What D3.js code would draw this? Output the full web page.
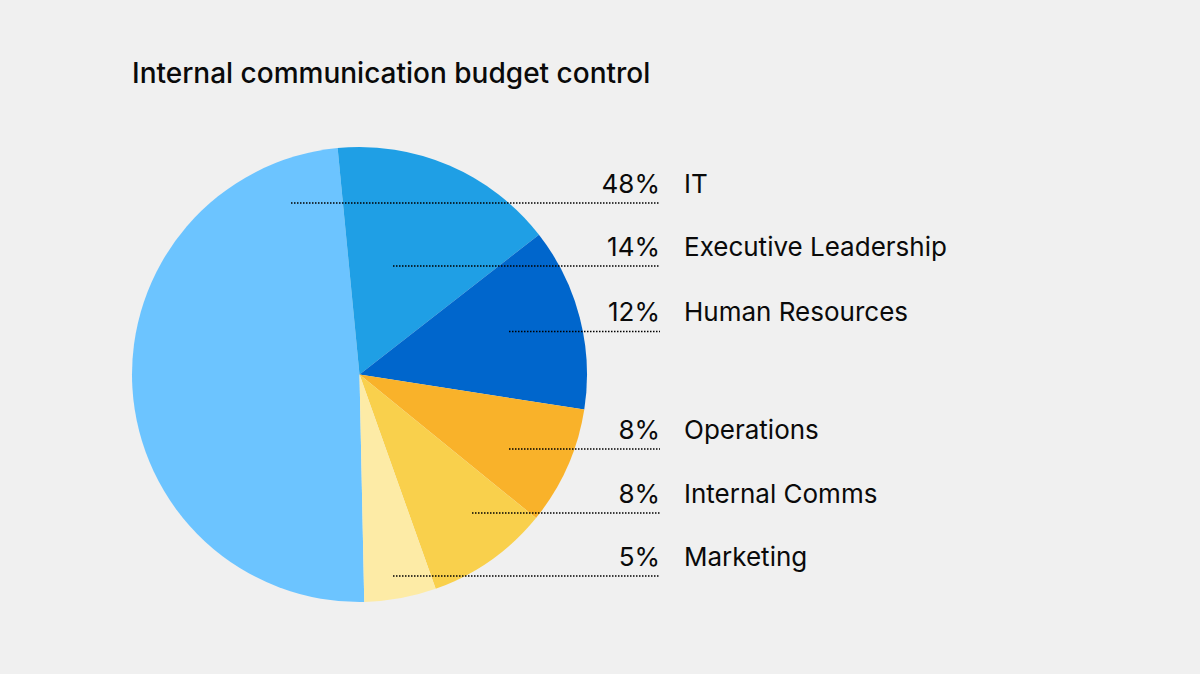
<!DOCTYPE html>
<html>
  <head>
    <title>Internal communication budget control</title>
    <script src="https://d3js.org/d3.v7.min.js"></script>
    <style>
      body {
        margin: 0;
        background: #f0f0f0;
      }
      text {
        font-family: Inter, "Noto Sans", sans-serif;
        fill: #0a0a0a;
      }
    </style>
  </head>
  <body>
    <div id="chart"></div>
    <script>
      // Departments, in legend order
      const departments = [
        "IT",
        "Executive Leadership",
        "Human Resources",
        "Operations",
        "Internal Comms",
        "Marketing",
      ];
      // Slice shares as drawn in the picture
      const shares = [48.8, 16.0, 13.0, 8.4, 8.7, 5.1];
      // Percent labels as printed next to the names
      const percentLabels = ["48%", "14%", "12%", "8%", "8%", "5%"];
      const colors = ["#6cc4ff", "#1f9fe5", "#0066cc", "#f9b22a", "#f9d04c", "#fdeba6"];

      const data = departments.map((name, i) => ({
        name,
        value: shares[i],
        label: percentLabels[i],
      }));

      const width = 1200,
        height = 674;
      const cx = 359.5,
        cy = 374.5,
        radius = 227.5;

      const svg = d3
        .select("#chart")
        .append("svg")
        .attr("width", width)
        .attr("height", height);

      // Title
      svg
        .append("text")
        .attr("x", 132)
        .attr("y", 83)
        .style("font-size", "28px")
        .style("font-weight", 500)
        .text("Internal communication budget control");

      // Pie, IT starts just right of straight down and runs clockwise
      const start = (178.8 * Math.PI) / 180;
      const pie = d3
        .pie()
        .sort(null)
        .value((d) => d.value)
        .startAngle(start)
        .endAngle(start + 2 * Math.PI);
      const arc = d3.arc().innerRadius(0).outerRadius(radius);

      const color = d3.scaleOrdinal().domain(departments).range(colors);

      const g = svg.append("g").attr("transform", `translate(${cx},${cy})`);
      g.selectAll("path")
        .data(pie(data))
        .join("path")
        .attr("d", arc)
        .attr("fill", (d) => color(d.data.name));

      // Label rows: y of the dotted line and where it starts on the left
      const lineY = [203, 266, 331.5, 449, 513, 576];
      const lineX0 = [291, 393, 509, 509, 472, 393];
      const labelRight = 660,
        nameLeft = 684;

      const rows = svg
        .append("g")
        .selectAll("g")
        .data(data)
        .join("g");

      rows
        .append("line")
        .attr("x1", (d, i) => lineX0[i])
        .attr("x2", labelRight)
        .attr("y1", (d, i) => lineY[i])
        .attr("y2", (d, i) => lineY[i])
        .attr("stroke", "#000")
        .attr("stroke-width", 1.5)
        .attr("stroke-dasharray", "1.5,1.5");

      rows
        .append("text")
        .attr("x", labelRight)
        .attr("y", (d, i) => lineY[i] - 10.5)
        .attr("text-anchor", "end")
        .style("font-size", "26px")
        .text((d) => d.label);

      rows
        .append("text")
        .attr("x", nameLeft)
        .attr("y", (d, i) => lineY[i] - 10.5)
        .style("font-size", "26px")
        .text((d) => d.name);
    </script>
  </body>
</html>
